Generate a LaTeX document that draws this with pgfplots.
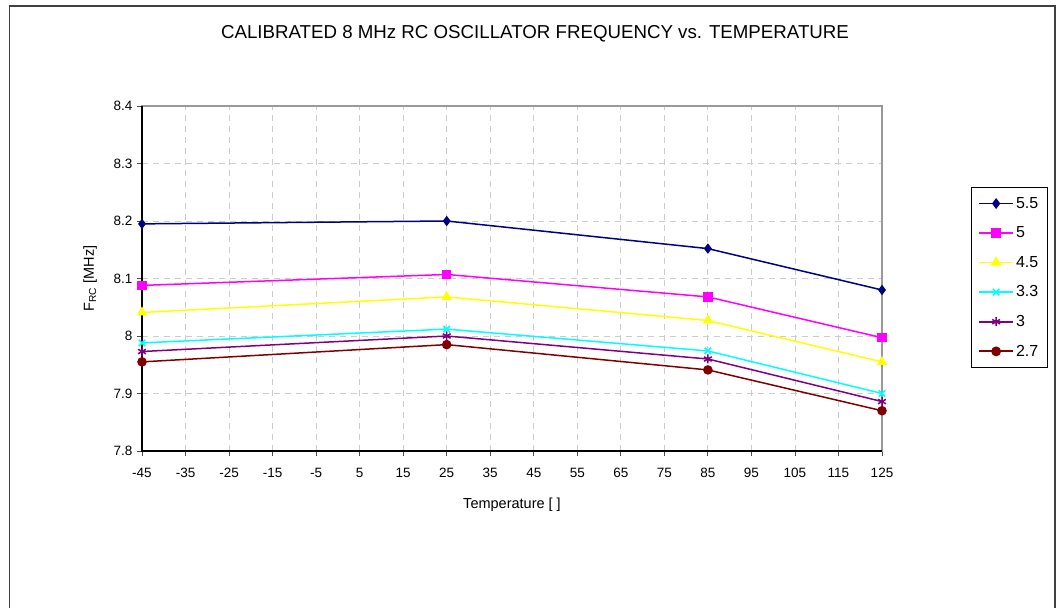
\documentclass[border=0pt]{standalone}
\usepackage{pgfplots}
\pgfplotsset{compat=1.18}
\usepackage{fontspec}
\setmainfont{Liberation Sans}
\definecolor{cA}{RGB}{0,0,128}
\definecolor{cB}{RGB}{255,0,255}
\definecolor{cC}{RGB}{255,255,0}
\definecolor{cD}{RGB}{0,255,255}
\definecolor{cE}{RGB}{128,0,128}
\definecolor{cF}{RGB}{128,0,0}
\begin{document}
\begin{tikzpicture}
\path[use as bounding box] (0bp,0bp) rectangle (1061bp,608bp);
\draw[line width=1.6bp, black!75] (9.5bp,-10bp) -- (9.5bp,602bp) -- (1055bp,602bp) -- (1055bp,-10bp);
\node[font=\fontsize{18.7bp}{22bp}\selectfont] at (535bp,574bp) {CALIBRATED 8 MHz RC OSCILLATOR FREQUENCY vs. TEMPERATURE};
\begin{axis}[
  at={(142bp,157bp)}, anchor=south west,
  scale only axis, width=740bp, height=345bp,
  xmin=-45, xmax=125, ymin=7.8, ymax=8.4,
  xtick={-45,-35,-25,-15,-5,5,15,25,35,45,55,65,75,85,95,105,115,125},
  ytick={7.8,7.9,8,8.1,8.2,8.3,8.4},
  yticklabels={7.8,7.9,8,8.1,8.2,8.3,8.4},
  /pgf/number format/assume math mode=true,
  ticklabel style={font=\fontsize{13.5bp}{16bp}\selectfont},
  xticklabel style={yshift=-9bp},
  yticklabel style={xshift=-1bp},
  grid=major,
  major grid style={gray!40, dash pattern=on 6bp off 5bp, line width=0.8bp},
  axis line style={gray!80, line width=1.2bp},
  tick style={black!70, line width=0.8bp},
  major tick length=5bp,
  tick align=outside,
  xtick pos=bottom, ytick pos=left,
  clip=false,
  xlabel={Temperature [ ]},
  ylabel={F\textsubscript{RC} [MHz]},
  label style={font=\fontsize{14.5bp}{17bp}\selectfont},
  xlabel style={at={(axis description cs:0.5,-0.156)}, anchor=center},
  ylabel style={at={(axis description cs:-0.070,0.5)}, anchor=center, rotate=0},
  legend style={at={(axis description cs:1.1203,0.765)}, anchor=north west,
    draw=black, fill=white,
    font=\fontsize{16bp}{19bp}\selectfont,
    row sep=13bp, inner xsep=7bp, inner ysep=8bp,
    cells={anchor=west}},
  every legend image post/.style={line width=1.8bp},
  legend image code/.code={\draw[mark repeat=2,mark phase=2] plot coordinates {(0bp,0bp) (17bp,0bp) (34bp,0bp)};},
  every axis plot/.append style={line width=1.5bp},
]
\addplot[cA, mark=diamond*, mark size=4bp, mark options={fill=cA}] coordinates {(-45,8.195) (25,8.200) (85,8.152) (125,8.080)};
\addlegendentry{5.5}
\addplot[cB, mark=square*, mark size=4bp, mark options={fill=cB}] coordinates {(-45,8.088) (25,8.107) (85,8.068) (125,7.997)};
\addlegendentry{5}
\addplot[cC, mark=triangle*, mark size=4.5bp, mark options={fill=cC}] coordinates {(-45,8.041) (25,8.068) (85,8.027) (125,7.955)};
\addlegendentry{4.5}
\addplot[cD, mark=x, mark size=4.5bp, mark options={line width=1.6bp}] coordinates {(-45,7.988) (25,8.012) (85,7.974) (125,7.900)};
\addlegendentry{3.3}
\addplot[cE, mark=asterisk, mark size=4.5bp, mark options={line width=1.5bp}] coordinates {(-45,7.973) (25,8.000) (85,7.960) (125,7.886)};
\addlegendentry{3}
\addplot[cF, mark=*, mark size=4bp, mark options={fill=cF}] coordinates {(-45,7.955) (25,7.985) (85,7.941) (125,7.870)};
\addlegendentry{2.7}
\draw[black, line width=1.3bp] (rel axis cs:0,1) -- (rel axis cs:0,0) -- (rel axis cs:1,0);
\end{axis}
\end{tikzpicture}
\end{document}
